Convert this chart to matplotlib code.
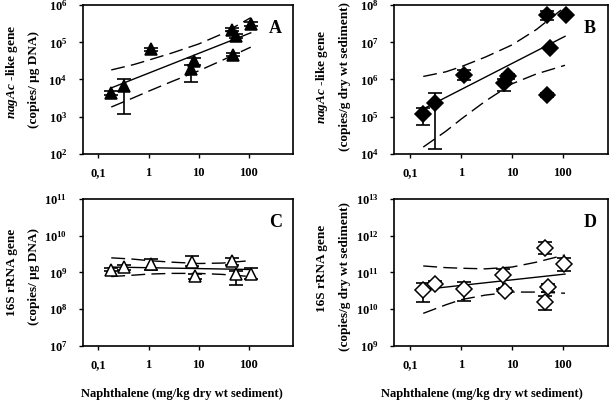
import matplotlib
matplotlib.use("Agg")
import matplotlib.pyplot as plt

plt.rcParams['font.family'] = 'Liberation Serif'
plt.rcParams['font.weight'] = 'bold'
plt.rcParams['mathtext.fontset'] = 'custom'
plt.rcParams['mathtext.rm'] = 'Liberation Serif:bold'
plt.rcParams['mathtext.bf'] = 'Liberation Serif:bold'
plt.rcParams['mathtext.it'] = 'Liberation Serif:italic:bold'

# ---- data ----
# A : nagAc-like gene, copies / ug DNA
x_a = [0.18, 0.32, 1.13, 7.0, 8.2, 46, 49, 57, 113]
y_a = [4400, 6600, 65000, 19000, 31000, 220000, 46000, 150000, 310000]
lo_a = [3900, 1150, 60000, 8500, 25000, 200000, 42000, 130000, 280000]
hi_a = [4900, 10500, 70000, 24000, 37000, 240000, 50000, 170000, 350000]

# B : nagAc-like gene, copies / g dry wt sediment
x_b = [0.18, 0.31, 1.13, 7.0, 8.2, 48, 48, 57, 113]
y_b = [1.15e5, 2.3e5, 1.35e6, 7.8e5, 1.25e6, 5.4e7, 3.9e5, 6.9e6, 5.4e7]
lo_b = [5.8e4, 1.3e4, 9.5e5, 5.0e5, 1.05e6, 4.1e7, 3.3e5, 6.5e6, 5.2e7]
hi_b = [1.7e5, 4.4e5, 1.8e6, 1.05e6, 1.4e6, 6.9e7, 4.4e5, 7.3e6, 5.6e7]

# C : 16S rRNA gene, copies / ug DNA
x_c = [0.18, 0.32, 1.13, 7.5, 8.3, 46, 56, 113]
y_c = [1.2e9, 1.4e9, 1.7e9, 1.9e9, 7.9e8, 2.0e9, 8.9e8, 9.3e8]
lo_c = [1.07e9, 1.15e9, 1.2e9, 1.5e9, 6.7e8, 1.6e9, 4.4e8, 6.7e8]
hi_c = [1.35e9, 1.6e9, 2.3e9, 2.8e9, 9.3e8, 2.5e9, 1.1e9, 1.3e9]

# D : 16S rRNA gene, copies / g dry wt sediment
x_d = [0.18, 0.31, 1.14, 6.6, 7.2, 45, 45, 50, 105]
y_d = [3.4e10, 4.9e10, 3.6e10, 8.3e10, 3.1e10, 4.5e11, 1.55e10, 4.0e10, 1.7e11]
lo_d = [1.6e10, 4.4e10, 1.7e10, 3.6e10, 2.7e10, 3.1e11, 9.3e9, 3.0e10, 1.1e11]
hi_d = [5.1e10, 5.7e10, 5.3e10, 1.26e11, 3.8e10, 6.8e11, 2.2e10, 4.9e10, 2.5e11]

# regression lines and 95% bands
fit_x = [0.18, 110]
fit_a = [5900, 1.8e5]
fit_b = [1.6e5, 1.45e7]
fit_c = [1.4e9, 1.2e9]
fit_d = [3.4e10, 9.0e10]

band_x = [0.18, 0.5, 1, 3, 10, 30, 110]
up_a = [1.8e4, 2.5e4, 3.3e4, 5.2e4, 9.0e4, 1.7e5, 4.6e5]
dn_a = [1.8e3, 3.2e3, 4.8e3, 8.9e3, 1.7e4, 3.3e4, 7.4e4]
up_b = [1.2e6, 1.6e6, 2.2e6, 4.0e6, 8.5e6, 2.2e7, 9.0e7]
dn_b = [1.5e4, 4.0e4, 8.5e4, 2.6e5, 7.6e5, 1.4e6, 2.4e6]
up_c = [2.5e9, 2.3e9, 2.1e9, 1.9e9, 1.75e9, 1.8e9, 2.1e9]
dn_c = [7.7e8, 8.4e8, 9.0e8, 9.4e8, 9.4e8, 8.8e8, 7.7e8]
up_d = [1.5e11, 1.35e11, 1.3e11, 1.25e11, 1.4e11, 1.9e11, 3.0e11]
dn_d = [7.6e9, 1.3e10, 1.8e10, 2.4e10, 2.9e10, 2.9e10, 2.7e10]

x_ticks = [0.1, 1, 10, 100]
x_ticklabels = ['0,1', '1', '10', '100']

fig = plt.figure(figsize=(6.09, 4.0), dpi=100)


def panel(rect, x, y, lo, hi, fit, up, dn, marker, face, ymin, ymax,
          letter, label1, label2, lab1_y, lab2_y):
    ax = fig.add_axes(rect)
    ax.set_xscale('log')
    ax.set_yscale('log')
    yerr = [[v - l for v, l in zip(y, lo)], [h - v for v, h in zip(y, hi)]]
    ax.errorbar(x, y, yerr=yerr, fmt='none', ecolor='black', elinewidth=1.2,
                capsize=4.8, capthick=1.2, zorder=2)
    ax.plot(x, y, linestyle='none', marker=marker, ms=9 if marker == '^' else 8,
            markerfacecolor=face, markeredgecolor='black', markeredgewidth=1.1, zorder=3)
    ax.plot(fit_x, fit, color='black', lw=1.0, zorder=1)
    ax.plot(band_x, up, color='black', lw=1.0, linestyle=(0, (10, 4.5)), zorder=1)
    ax.plot(band_x, dn, color='black', lw=1.0, linestyle=(0, (10, 4.5)), zorder=1)

    ax.set_xlim(0.048, 770)
    ax.set_ylim(10.0 ** ymin, 10.0 ** ymax)
    ax.set_xticks(x_ticks)
    ax.set_xticklabels(x_ticklabels)
    yt = [10.0 ** k for k in range(ymin, ymax + 1)]
    ax.set_yticks(yt)
    ax.set_yticklabels([r'$\mathrm{10^{%d}}$' % k for k in range(ymin, ymax + 1)])
    ax.minorticks_off()
    ax.tick_params(direction='out', length=3, width=1, labelsize=9)
    ax.tick_params(axis='x', pad=7)
    ax.tick_params(axis='y', pad=8)
    for s in ax.spines.values():
        s.set_linewidth(1.2)

    ax.text(0.915, 0.84, letter, transform=ax.transAxes, fontsize=13,
            fontweight='bold', ha='center', va='center')
    ax.text(-0.337, lab1_y, label1, transform=ax.transAxes, rotation=90,
            fontsize=9.5, ha='center', va='center')
    ax.text(-0.23, lab2_y, label2, transform=ax.transAxes, rotation=90,
            fontsize=9.5, ha='center', va='center')
    return ax


nag = r'$\mathit{nagAc}$ -like gene'
panel([0.1355, 0.616, 0.3457, 0.371], x_a, y_a, lo_a, hi_a, fit_a, up_a, dn_a,
      '^', 'black', 2, 6, 'A', nag, '(copies/ µg DNA)', 0.55, 0.5)
panel([0.647, 0.616, 0.3514, 0.371], x_b, y_b, lo_b, hi_b, fit_b, up_b, dn_b,
      'D', 'black', 4, 8, 'B', nag, '(copies/g dry wt sediment)', 0.52, 0.52)
ax_c = panel([0.1355, 0.136, 0.3457, 0.366], x_c, y_c, lo_c, hi_c, fit_c, up_c, dn_c,
             '^', 'white', 7, 11, 'C', '16S rRNA gene', '(copies/ µg DNA)', 0.5, 0.47)
ax_d = panel([0.647, 0.136, 0.3514, 0.366], x_d, y_d, lo_d, hi_d, fit_d, up_d, dn_d,
             'D', 'white', 9, 13, 'D', '16S rRNA gene', '(copies/g dry wt sediment)', 0.53, 0.47)

xlab = 'Naphthalene (mg/kg dry wt sediment)'
ax_c.text(0.47, -0.33, xlab, transform=ax_c.transAxes, fontsize=9,
          ha='center', va='center')
ax_d.text(0.41, -0.33, xlab, transform=ax_d.transAxes, fontsize=9,
          ha='center', va='center')

fig.savefig('out.png', dpi=100)
